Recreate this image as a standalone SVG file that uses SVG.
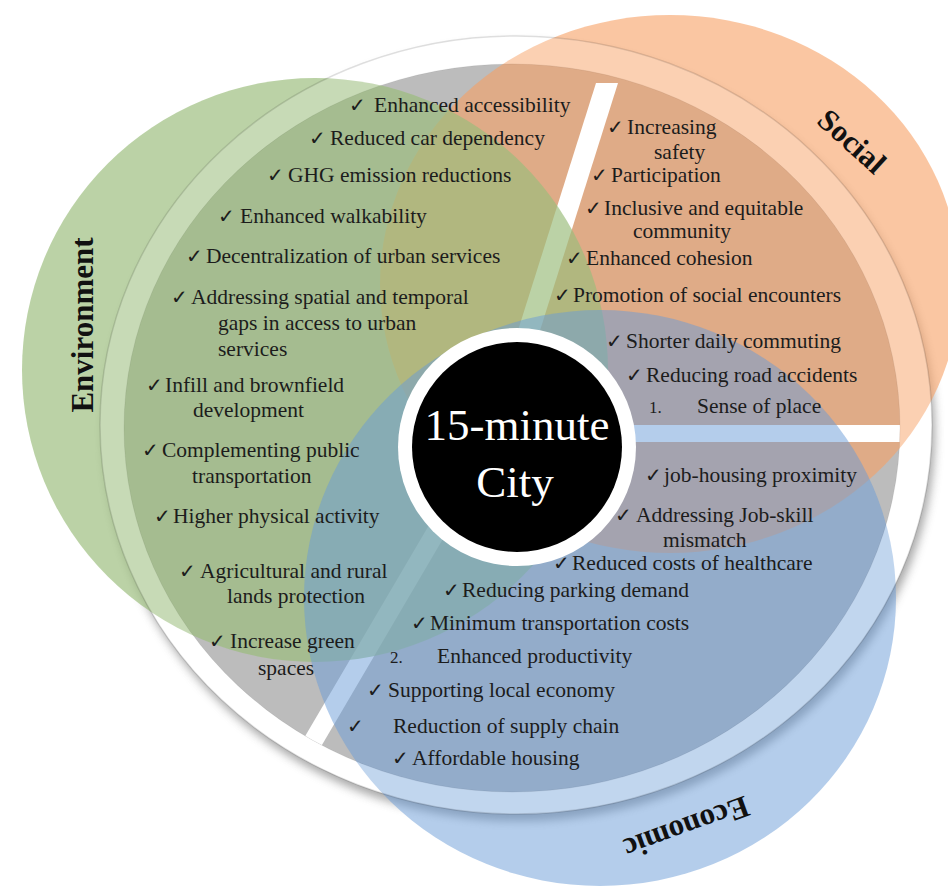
<svg xmlns="http://www.w3.org/2000/svg" width="948" height="891" viewBox="0 0 948 891">
  <defs>
    <style>
      .it { font-family: "Liberation Serif", "Times New Roman", serif; font-size: 21.5px; fill: #1c1c1c; }
      .ck { font-family: "DejaVu Sans", sans-serif; font-size: 20px; font-weight: bold; fill: #1c1c1c; }
      .num { font-family: "Liberation Serif", serif; font-size: 17px; fill: #1c1c1c; }
      .cat { font-family: "Liberation Serif", "Times New Roman", serif; font-size: 31px; font-weight: bold; fill: #111; }
      .ctr { font-family: "Liberation Serif", "Times New Roman", serif; font-size: 45px; fill: #ffffff; text-anchor: middle; }
    </style>
    <filter id="blur" x="-10%" y="-10%" width="120%" height="120%">
      <feGaussianBlur stdDeviation="5"/>
    </filter>
    <clipPath id="innerClip">
      <ellipse cx="512" cy="428" rx="388" ry="364"/>
    </clipPath>
  </defs>

  <rect width="948" height="891" fill="#ffffff"/>

  <g id="plate">
    <ellipse cx="519" cy="432" rx="416" ry="389" fill="#6f6f6f" opacity="0.6" filter="url(#blur)"/>
    <ellipse cx="516" cy="425" rx="416" ry="389" fill="#ffffff"/>
    <ellipse cx="512" cy="428" rx="388" ry="364" fill="#bcbcbc"/>
  </g>

  <g id="social-circle">
    <ellipse cx="670" cy="284" rx="290" ry="269" fill="#f7a064" fill-opacity="0.6"/>
  </g>

  <g id="dividers" clip-path="url(#innerClip)" fill="#ffffff">
    <polygon points="596,83 618,83 537,340 515,340"/>
    <rect x="600" y="425" width="300" height="17"/>
    <polygon points="432,520 454,520 319,750 297,750"/>
  </g>

  <g id="environment-circle">
    <ellipse cx="315" cy="370" rx="293" ry="292" fill="#9bbd7c" fill-opacity="0.68"/>
  </g>

  <g id="economic-circle">
    <ellipse cx="600" cy="598" rx="296" ry="288" fill="#6a9cd8" fill-opacity="0.5"/>
  </g>

  <g id="plate-rim">
    <path d="M100,425 A416,389 0 1 0 932,425 A416,389 0 1 0 100,425 Z M124,428 A388,364 0 1 0 900,428 A388,364 0 1 0 124,428 Z" fill="#ffffff" fill-opacity="0.18" fill-rule="evenodd"/>
    <ellipse cx="516" cy="425" rx="416" ry="389" fill="none" stroke="#000000" stroke-opacity="0.12" stroke-width="1.5"/>
    <ellipse cx="512" cy="428" rx="388" ry="364" fill="none" stroke="#000000" stroke-opacity="0.06" stroke-width="1"/>
  </g>

  <g id="center">
    <circle cx="517" cy="447" r="119" fill="#ffffff"/>
    <circle cx="517" cy="447" r="105" fill="#000000"/>
    <text class="ctr" x="517" y="440">15-minute</text>
    <text class="ctr" x="515" y="497">City</text>
  </g>

  <g id="environment">
    <text class="cat" transform="translate(93,325) rotate(-90)" text-anchor="middle">Environment</text>
    <text class="ck" x="349" y="112">✓</text><text class="it" x="374" y="112">Enhanced accessibility</text>
    <text class="ck" x="309" y="145">✓</text><text class="it" x="330" y="145">Reduced car dependency</text>
    <text class="ck" x="267" y="182">✓</text><text class="it" x="288" y="182">GHG emission reductions</text>
    <text class="ck" x="218" y="223">✓</text><text class="it" x="240" y="223">Enhanced walkability</text>
    <text class="ck" x="186" y="263">✓</text><text class="it" x="206" y="263">Decentralization of urban services</text>
    <text class="ck" x="171" y="304">✓</text><text class="it" x="191" y="304">Addressing spatial and temporal</text>
    <text class="it" x="218" y="330">gaps in access to urban</text>
    <text class="it" x="218" y="356">services</text>
    <text class="ck" x="146" y="392">✓</text><text class="it" x="165" y="392">Infill and brownfield</text>
    <text class="it" x="193" y="417">development</text>
    <text class="ck" x="142" y="457">✓</text><text class="it" x="162" y="457">Complementing public</text>
    <text class="it" x="192" y="483">transportation</text>
    <text class="ck" x="154" y="523">✓</text><text class="it" x="173" y="523">Higher physical activity</text>
    <text class="ck" x="179" y="578">✓</text><text class="it" x="200" y="578">Agricultural and rural</text>
    <text class="it" x="227" y="603">lands protection</text>
    <text class="ck" x="209" y="648">✓</text><text class="it" x="230" y="648">Increase green</text>
    <text class="it" x="258" y="675">spaces</text>
  </g>

  <g id="social">
    <text class="cat" transform="translate(845,149) rotate(42)" text-anchor="middle">Social</text>
    <text class="ck" x="607" y="134">✓</text><text class="it" x="627" y="134">Increasing</text>
    <text class="it" x="654" y="159">safety</text>
    <text class="ck" x="591" y="182">✓</text><text class="it" x="611" y="182">Participation</text>
    <text class="ck" x="585" y="215">✓</text><text class="it" x="604" y="215">Inclusive and equitable</text>
    <text class="it" x="633" y="238">community</text>
    <text class="ck" x="566" y="265">✓</text><text class="it" x="586" y="265">Enhanced cohesion</text>
    <text class="ck" x="554" y="302">✓</text><text class="it" x="573" y="302">Promotion of social encounters</text>
    <text class="ck" x="606" y="348">✓</text><text class="it" x="626" y="348">Shorter daily commuting</text>
    <text class="ck" x="626" y="382">✓</text><text class="it" x="646" y="382">Reducing road accidents</text>
    <text class="num" x="649" y="413">1.</text><text class="it" x="697" y="413">Sense of place</text>
  </g>

  <g id="economic">
    <text class="cat" transform="translate(683,818) rotate(160)" text-anchor="middle">Economic</text>
    <text class="ck" x="645" y="482">✓</text><text class="it" x="664" y="482">job-housing proximity</text>
    <text class="ck" x="615" y="522">✓</text><text class="it" x="636" y="522">Addressing Job-skill</text>
    <text class="it" x="663" y="547">mismatch</text>
    <text class="ck" x="553" y="570">✓</text><text class="it" x="572" y="570">Reduced costs of healthcare</text>
    <text class="ck" x="443" y="597">✓</text><text class="it" x="462" y="597">Reducing parking demand</text>
    <text class="ck" x="411" y="630">✓</text><text class="it" x="430" y="630">Minimum transportation costs</text>
    <text class="num" x="390" y="663">2.</text><text class="it" x="437" y="663">Enhanced productivity</text>
    <text class="ck" x="367" y="697">✓</text><text class="it" x="388" y="697">Supporting local economy</text>
    <text class="ck" x="347" y="733">✓</text><text class="it" x="393" y="733">Reduction of supply chain</text>
    <text class="ck" x="392" y="765">✓</text><text class="it" x="412" y="765">Affordable housing</text>
  </g>
</svg>
